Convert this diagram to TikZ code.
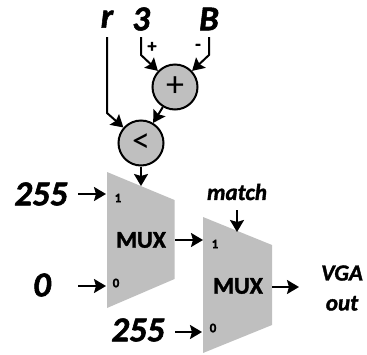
\documentclass[tikz,border=0pt]{standalone}
\usepackage{fontspec}
\setmainfont[BoldFeatures={FakeBold=1.5},BoldItalicFeatures={FakeBold=1.5}]{Carlito}
\usetikzlibrary{arrows.meta}
\tikzset{
  x=1pt,y=-1pt,
  wire/.style={draw=black,line width=2pt,-{Stealth[length=12pt,width=14pt,inset=2pt]}},
  op/.style={circle,draw=black,line width=2pt,fill=black!25,minimum size=45pt,inner sep=0pt,font=\fontsize{36}{36}\selectfont},
  muxbody/.style={fill=black!25,draw=none},
  biglab/.style={inner sep=0pt,font=\fontsize{35}{35}\selectfont\bfseries\itshape},
  midlab/.style={inner sep=0pt,font=\fontsize{23}{30}\selectfont\bfseries\itshape,align=center},
  muxlab/.style={inner sep=0pt,font=\fontsize{24}{24}\selectfont\bfseries},
  pinlab/.style={inner sep=0pt,font=\fontsize{13}{13}\selectfont\bfseries},
  signlab/.style={inner sep=0pt,font=\fontsize{18}{18}\selectfont\bfseries},
}
\begin{document}
\begin{tikzpicture}
\useasboundingbox (0,0) rectangle (367,354);
\fill[muxbody] (107,172) -- (174.5,200) -- (174.5,279) -- (107,308) -- cycle;
\fill[muxbody] (203,217) -- (272,245) -- (272,325) -- (203,353) -- cycle;
\node[muxlab] (muxa) at (141,240) {MUX};
\node[muxlab] (muxb) at (238,286) {MUX};
\node[op] (add) at (175,87) {+};
\node[op] (lt) at (141,143) {<};
\node[biglab] (r) at (107,19) {r};
\node[biglab] (three) at (141,19) {3};
\node[biglab] (b) at (209,19) {B};
\node[biglab] (c255a) at (41,194) {255};
\node[biglab] (c0) at (42,285) {0};
\node[biglab] (c255b) at (138,330) {255};
\node[midlab] (match) at (237,192) {match};
\node[midlab] (vga) at (342,288) {VGA\\out};
\node[signlab] (plus) at (152,47) {+};
\node[signlab] (minus) at (198,47) {-};
\node[pinlab] (p1a) at (118,198) {1};
\node[pinlab] (p0a) at (116,283) {0};
\node[pinlab] (p1b) at (215,244) {1};
\node[pinlab] (p0b) at (213,328) {0};
\coordinate (rs) at (107,37);
\coordinate (rk) at (107,113);
\coordinate (ts) at (141,37);
\coordinate (tk) at (141,55);
\coordinate (bs) at (209,37);
\coordinate (bk) at (209,55);
\coordinate (muxatop) at (141,186);
\coordinate (a1s) at (78,194);
\coordinate (a1e) at (106,194);
\coordinate (a0s) at (78,286);
\coordinate (a0e) at (106,286);
\coordinate (b1s) at (175,240);
\coordinate (b1e) at (203,240);
\coordinate (b0s) at (175,332);
\coordinate (b0e) at (202,332);
\coordinate (ms) at (237,210);
\coordinate (me) at (237,232);
\coordinate (os) at (272,287);
\coordinate (oe) at (299,287);
\draw[wire] (rs) -- (rk) -- (lt);
\draw[wire] (ts) -- (tk) -- (add);
\draw[wire] (bs) -- (bk) -- (add);
\draw[wire] (add) -- (lt);
\draw[wire] (lt) -- (muxatop);
\draw[wire] (a1s) -- (a1e);
\draw[wire] (a0s) -- (a0e);
\draw[wire] (b1s) -- (b1e);
\draw[wire] (b0s) -- (b0e);
\draw[wire] (ms) -- (me);
\draw[wire] (os) -- (oe);
\end{tikzpicture}
\end{document}
